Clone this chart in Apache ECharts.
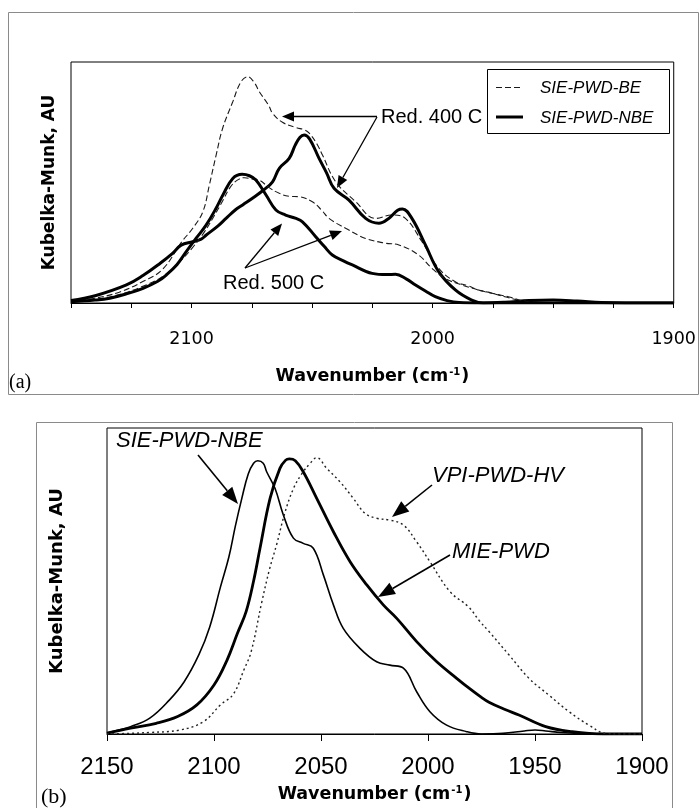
<!DOCTYPE html>
<html>
<head>
<meta charset="utf-8">
<script src="https://cdn.jsdelivr.net/npm/echarts@6/dist/echarts.min.js"></script>
<style>
html,body{margin:0;padding:0;background:#fff;}
#chart{width:699px;height:808px;}
</style>
</head>
<body>
<div id="chart"></div>
<script>
// ---------- data (wavenumber cm-1, Kubelka-Munk AU) ----------
// Panel (a)
const topTicks = [2100, 2000, 1900];
const legendNames = ['SIE-PWD-BE', 'SIE-PWD-NBE'];
const aBE400 = [[2150,0.008],[2140,0.02],[2130,0.045],[2120,0.09],[2112,0.14],[2104,0.255],[2099.5,0.31],[2095.3,0.379],[2092.6,0.49],[2089.8,0.614],[2087.1,0.725],[2082.9,0.835],[2079.5,0.918],[2076.7,0.939],[2074,0.915],[2071.9,0.877],[2068,0.82],[2066.4,0.787],[2062.3,0.75],[2056.7,0.728],[2053,0.718],[2051.2,0.705],[2048,0.66],[2045.7,0.614],[2040.2,0.503],[2031.9,0.42],[2023.7,0.351],[2016.8,0.365],[2011.3,0.351],[2004.4,0.254],[1997.5,0.144],[1990.6,0.088],[1985.5,0.072],[1981,0.054],[1977,0.045],[1970,0.026],[1962,0.007],[1955,0.002],[1940,0],[1900,0]];
const aNBE400 = [[2150,0.01],[2140,0.03],[2127,0.075],[2120,0.115],[2113,0.165],[2108,0.205],[2104.3,0.24],[2099.5,0.254],[2096,0.265],[2093.9,0.282],[2089,0.32],[2085.7,0.351],[2082,0.385],[2078.8,0.407],[2074,0.44],[2070,0.47],[2066.4,0.503],[2063.6,0.559],[2059.5,0.6],[2057,0.655],[2055,0.688],[2053.3,0.697],[2051,0.68],[2047.1,0.6],[2044,0.54],[2040.9,0.476],[2034.7,0.427],[2027.8,0.351],[2022.3,0.331],[2018.2,0.351],[2014.5,0.385],[2012.5,0.39],[2008.6,0.351],[2003,0.241],[1997.5,0.13],[1990.6,0.054],[1983.8,0.012],[1979,0],[1970,0.003],[1960,0.01],[1950,0.012],[1940,0.008],[1930,0.002],[1920,0],[1900,0]];
const aBE500 = [[2150,0.006],[2140,0.015],[2130,0.035],[2120,0.07],[2112,0.11],[2105,0.17],[2100,0.225],[2095,0.29],[2091,0.355],[2087,0.425],[2084,0.48],[2081,0.51],[2078,0.52],[2075,0.515],[2071.9,0.51],[2068,0.48],[2063.6,0.455],[2059.5,0.443],[2055.4,0.441],[2049.9,0.42],[2046,0.385],[2043,0.351],[2036.1,0.31],[2027.8,0.268],[2019.5,0.248],[2014,0.241],[2005.8,0.199],[2000.3,0.144],[1994.8,0.102],[1987.9,0.075],[1978.2,0.047],[1968.6,0.026],[1962,0.008],[1955,0.002],[1945,0],[1900,0]];
const aNBE500 = [[2150,0.005],[2140,0.012],[2133.9,0.02],[2127,0.038],[2120.1,0.061],[2114,0.09],[2110.5,0.116],[2106,0.16],[2102.2,0.213],[2098,0.27],[2093.9,0.324],[2090,0.39],[2087,0.448],[2082.9,0.517],[2079,0.534],[2076,0.528],[2073.3,0.51],[2069.1,0.448],[2065,0.386],[2061,0.365],[2057,0.352],[2054,0.337],[2048.5,0.275],[2045,0.235],[2041.6,0.199],[2037,0.175],[2033.3,0.158],[2025.1,0.123],[2019,0.118],[2015.4,0.119],[2011,0.1],[2007.1,0.075],[2003,0.05],[1998.9,0.026],[1994,0.01],[1989,0.002],[1980,0],[1900,0]];

// Panel (b)
const bottomTicks = [2150, 2100, 2050, 2000, 1950, 1900];
const bSIE = [[2150,0.003],[2145,0.012],[2139,0.024],[2130,0.052],[2121,0.11],[2114,0.17],[2107,0.26],[2102,0.35],[2097,0.48],[2093,0.58],[2090,0.68],[2087,0.77],[2084,0.85],[2081.5,0.885],[2079.5,0.893],[2077,0.885],[2075.4,0.857],[2071.5,0.803],[2067.6,0.716],[2062.9,0.64],[2058.3,0.623],[2053.6,0.607],[2048.9,0.52],[2044.2,0.422],[2039.6,0.345],[2031.8,0.28],[2024,0.236],[2017.8,0.225],[2011.5,0.215],[2005.3,0.138],[1999.1,0.073],[1991.3,0.029],[1981.9,0.0075],[1975,0],[1965,0.002],[1955,0.01],[1950,0.013],[1945,0.01],[1938,0.005],[1930,0.002],[1900,0]];
const bMIE = [[2150,0.003],[2139,0.019],[2127,0.035],[2117,0.057],[2108,0.095],[2100,0.16],[2094,0.24],[2089,0.33],[2085,0.4],[2081.5,0.5],[2078.5,0.607],[2073.8,0.77],[2069.2,0.868],[2066.5,0.895],[2064.8,0.899],[2062,0.893],[2058.3,0.857],[2052,0.77],[2044.2,0.661],[2036.4,0.563],[2028.6,0.487],[2020.9,0.422],[2014.6,0.378],[2005.3,0.302],[1995.9,0.236],[1986.6,0.182],[1980.5,0.148],[1975.5,0.122],[1971.5,0.104],[1964,0.08],[1957.5,0.062],[1945,0.024],[1932.6,0.0075],[1918,0],[1900,0]];
const bVPI = [[2150,0],[2140,0.002],[2130,0.005],[2116,0.013],[2105,0.04],[2097,0.095],[2091,0.13],[2086,0.21],[2082.6,0.27],[2077.7,0.43],[2074,0.54],[2070.7,0.62],[2067,0.72],[2063,0.8],[2059,0.85],[2055,0.885],[2052,0.903],[2047.3,0.868],[2041.1,0.824],[2034.9,0.77],[2029.4,0.721],[2024,0.705],[2017.8,0.699],[2011.5,0.683],[2005.3,0.628],[1999.1,0.563],[1989.7,0.465],[1981,0.415],[1976,0.37],[1971.5,0.335],[1962.1,0.258],[1952.8,0.182],[1943.5,0.127],[1934.1,0.073],[1924.8,0.029],[1917,0.002],[1910,0],[1900,0]];

// ---------- chart ----------
const chart = echarts.init(document.getElementById('chart'), null, {renderer:'canvas'});

function arrow(x1, y1, x2, y2, len, hw, w) {
  const dx = x2 - x1, dy = y2 - y1, L = Math.hypot(dx, dy);
  const ux = dx / L, uy = dy / L;
  const bx = x2 - ux * len, by = y2 - uy * len;
  return [
    {type:'line', silent:true, shape:{x1:x1, y1:y1, x2:bx, y2:by}, style:{stroke:'#000', lineWidth:w}},
    {type:'polygon', silent:true, shape:{points:[[x2,y2],[bx - uy*hw, by + ux*hw],[bx + uy*hw, by - ux*hw]]}, style:{fill:'#000'}}
  ];
}
function label(txt, x, y, font) {
  return {type:'text', silent:true, x:x, y:y, z:10, style:{text:txt, font:font, fill:'#000', align:'left', verticalAlign:'middle'}};
}

const fA = '20px "Liberation Sans", Arial, sans-serif';
const fB = 'italic 22px "Liberation Sans", Arial, sans-serif';
const fL = 'italic 17px "Liberation Sans", Arial, sans-serif';

const graphics = [
  {type:'rect', silent:true, shape:{x:8.5, y:12.5, width:690, height:382}, style:{fill:'none', stroke:'#8a8a8a', lineWidth:1}},
  {type:'rect', silent:true, shape:{x:36.5, y:422.5, width:636, height:400}, style:{fill:'none', stroke:'#8a8a8a', lineWidth:1}},
  // legend box of panel (a)
  {type:'rect', silent:true, z:9, shape:{x:487.5, y:69.5, width:182, height:64}, style:{fill:'#fff', stroke:'#000', lineWidth:1}},
  {type:'line', silent:true, z:10, shape:{x1:496, y1:87.5, x2:523, y2:87.5}, style:{stroke:'#1a1a1a', lineWidth:1.1, lineDash:[6,3]}},
  {type:'line', silent:true, z:10, shape:{x1:496, y1:117, x2:523, y2:117}, style:{stroke:'#000', lineWidth:3}},
  label(legendNames[0], 540, 88, fL),
  label(legendNames[1], 540, 118, fL),
  label('Red. 400 C', 381, 117, fA),
  label('Red. 500 C', 223, 283, fA),
  label('(a)', 9, 383, '20px "Liberation Serif", "Times New Roman", serif'),
  label('(b)', 41, 797, '22px "Liberation Serif", "Times New Roman", serif'),
  label('SIE-PWD-NBE', 116, 441, fB),
  label('VPI-PWD-HV', 432, 476, fB),
  label('MIE-PWD', 452, 552, fB)
].concat(
  arrow(377, 116.5, 282, 116.5, 12, 5, 1.3),
  arrow(377, 117, 337, 188, 12, 5, 1.3),
  arrow(245, 268, 282, 223.5, 12, 5, 1.3),
  arrow(245, 268, 342, 231, 12, 5, 1.3),
  arrow(198, 455, 238, 504, 17, 6.5, 1.6),
  arrow(432, 485, 392, 517, 17, 6.5, 1.6),
  arrow(450, 555, 378, 597, 17, 6.5, 1.6)
);

const xName = '{a|Wavenumber (cm}{s|-1}{a|)}';
const nameRich = {
  a:{fontFamily:'DejaVu Sans', fontWeight:'bold', fontSize:17.5, color:'#000'},
  s:{fontFamily:'DejaVu Sans', fontWeight:'bold', fontSize:10, color:'#000', padding:[0,1,9,1]}
};

function line(name, data, xi, color, width, type) {
  return {
    type:'line', name:name, data:data, xAxisIndex:xi, yAxisIndex:xi,
    symbol:'none', showSymbol:false, smooth:0.4,
    lineStyle:{color:color, width:width, type:type}, itemStyle:{color:color},
    silent:true, z:3
  };
}

const option = {
  animation:false,
  backgroundColor:'#fff',
  grid:[
    {left:71, top:62, width:605, height:241, show:true, borderColor:'#000', borderWidth:1, backgroundColor:'transparent'},
    {left:107, top:428, width:535, height:306, show:true, borderColor:'#000', borderWidth:1, backgroundColor:'transparent'}
  ],
  xAxis:[
    {gridIndex:0, type:'value', min:1900, max:2150, interval:25, inverse:true,
     axisLine:{show:true, onZero:false, lineStyle:{color:'#000', width:1}},
     axisTick:{show:true, inside:false, length:5, lineStyle:{color:'#000'}},
     axisLabel:{margin:27, fontFamily:'DejaVu Sans', fontSize:17.5, color:'#000',
       formatter:function(v){ return topTicks.indexOf(v) >= 0 ? String(v) : ''; }},
     splitLine:{show:false},
     name:xName, nameLocation:'middle', nameGap:64, nameTextStyle:{rich:nameRich}},
    {gridIndex:1, type:'value', min:1900, max:2150, interval:50, inverse:true,
     axisLine:{show:true, onZero:false, lineStyle:{color:'#000', width:1}},
     axisTick:{show:true, inside:false, length:7, lineStyle:{color:'#000'}},
     axisLabel:{margin:21, fontFamily:'"Liberation Sans", Arial, sans-serif', fontSize:24, color:'#000', showMinLabel:true, showMaxLabel:true,
       formatter:function(v){ return bottomTicks.indexOf(v) >= 0 ? String(v) : ''; }},
     splitLine:{show:false},
     name:xName, nameLocation:'middle', nameGap:51, nameTextStyle:{rich:nameRich}}
  ],
  yAxis:[
    {gridIndex:0, type:'value', min:0, max:1,
     axisLine:{show:false}, axisTick:{show:false}, axisLabel:{show:false}, splitLine:{show:false},
     name:'Kubelka-Munk, AU', nameLocation:'middle', nameRotate:90, nameGap:13,
     nameTextStyle:{fontFamily:'DejaVu Sans', fontWeight:'bold', fontSize:17, color:'#000'}},
    {gridIndex:1, type:'value', min:0, max:1,
     axisLine:{show:false}, axisTick:{show:false}, axisLabel:{show:false}, splitLine:{show:false},
     name:'Kubelka-Munk, AU', nameLocation:'middle', nameRotate:90, nameGap:41,
     nameTextStyle:{fontFamily:'DejaVu Sans', fontWeight:'bold', fontSize:18, color:'#000'}}
  ],
  series:[
    line(legendNames[0], aBE400, 0, '#1a1a1a', 1.1, [6,3]),
    line(legendNames[1], aNBE400, 0, '#000', 3, 'solid'),
    line(legendNames[0], aBE500, 0, '#1a1a1a', 1.1, [6,3]),
    line(legendNames[1], aNBE500, 0, '#000', 3, 'solid'),
    line('SIE-PWD-NBE (b)', bSIE, 1, '#000', 1.6, 'solid'),
    line('MIE-PWD', bMIE, 1, '#000', 2.8, 'solid'),
    line('VPI-PWD-HV', bVPI, 1, '#222', 1.4, [2,3])
  ],
  graphic:graphics
};
chart.setOption(option);
</script>
</body>
</html>
